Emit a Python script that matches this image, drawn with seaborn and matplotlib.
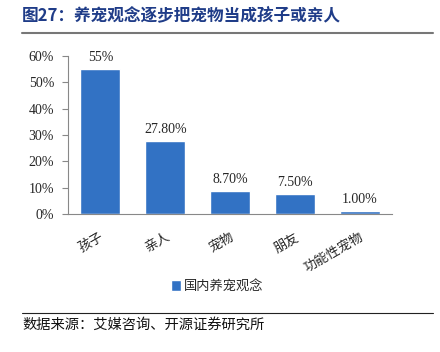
import matplotlib
matplotlib.use("Agg")
import matplotlib.pyplot as plt
import seaborn as sns
import pandas as pd
from matplotlib.ticker import PercentFormatter

categories = ["孩子", "亲人", "宠物", "朋友", "功能性宠物"]
values = [55.0, 27.8, 8.7, 7.5, 1.0]
value_labels = ["55%", "27.80%", "8.70%", "7.50%", "1.00%"]
series_name = "国内养宠观念"

sns.set_style("white")
plt.rcParams['font.family'] = ['Noto Sans CJK SC', 'DejaVu Sans']

df = pd.DataFrame({"cat": categories, "val": values, "series": series_name})

fig = plt.figure(figsize=(4.4, 3.52), dpi=100)
ax = fig.add_axes([0.1545, 0.392, 0.7365, 0.449])

sns.barplot(data=df, x="cat", y="val", hue="series", palette=["#3272C4"],
            width=0.62, ax=ax, saturation=1)

ax.set_ylim(0, 60)
ax.set_xlim(-0.5, 4.5)
ax.set_yticks(range(0, 61, 10))
ax.yaxis.set_major_formatter(PercentFormatter(decimals=0))
for lab in ax.get_yticklabels():
    lab.set_fontfamily("Liberation Serif")
    lab.set_fontsize(10)
ax.tick_params(axis="y", length=4, width=0.8, color="#888888", left=True, pad=6)
ax.tick_params(axis="x", length=0, pad=12)
ax.set_xticks(range(len(categories)))
ax.set_xticklabels(categories, rotation=30, ha="right", rotation_mode="anchor",
                   fontsize=9.5)
ax.set_xlabel("")
ax.set_ylabel("")

for s in ["top", "right"]:
    ax.spines[s].set_visible(False)
for s in ["left", "bottom"]:
    ax.spines[s].set_color("#888888")
    ax.spines[s].set_linewidth(0.8)

for i, (v, t) in enumerate(zip(values, value_labels)):
    ax.text(i, v + 2, t, ha="center", va="bottom", fontsize=10,
            fontfamily="Liberation Serif")

leg = ax.legend(loc="upper center", bbox_to_anchor=(0.46, -0.34), frameon=False,
                fontsize=9.5, handlelength=0.8, handleheight=0.9, handletextpad=0.2)

fig.text(0.05, 0.955, "图27：养宠观念逐步把宠物当成孩子或亲人", fontsize=12,
         fontweight="bold", color="#1F3C88", va="center", ha="left")
fig.add_artist(plt.Line2D([0.05, 0.985], [0.906, 0.906], color="#777777", lw=1.5))
fig.add_artist(plt.Line2D([0.05, 0.985], [0.111, 0.111], color="#222222", lw=0.8))
fig.text(0.05, 0.077, "数据来源：艾媒咨询、开源证券研究所", fontsize=10.3,
         color="#111111", va="center", ha="left")

fig.savefig("out.png", dpi=100)
